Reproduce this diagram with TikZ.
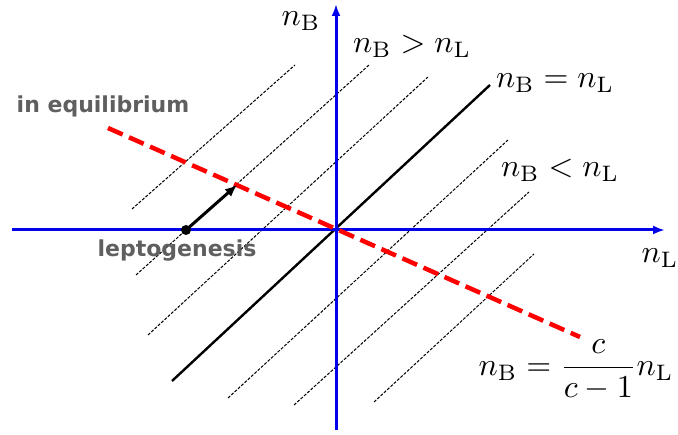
\documentclass[tikz,border=0pt]{standalone}
\usepackage{graphicx}
\usepackage{fontspec}
\newfontfamily\labfont{DejaVu Sans}
\usetikzlibrary{arrows.meta}
\definecolor{axisblue}{RGB}{0,0,235}
\definecolor{eqred}{RGB}{255,0,0}
\definecolor{labgray}{RGB}{95,95,95}
\newcommand{\bigmath}[1]{\scalebox{3.2}{#1}}
\tikzset{
  axisline/.style={draw=axisblue,line width=3pt,-{Latex[length=12pt,width=9pt]}},
  isoline/.style={draw=black,line width=1pt,dash pattern=on 3pt off 1.5pt},
  mainline/.style={draw=black,line width=2.4pt},
  eqline/.style={draw=eqred,line width=4.5pt,dash pattern=on 16pt off 7pt},
  movearrow/.style={draw=black,line width=3pt,-{Latex[length=12pt,width=10pt]}},
  mathlabel/.style={inner sep=0pt},
  textlabel/.style={inner sep=0pt,text=labgray,font=\labfont\bfseries\fontsize{22}{26}\selectfont},
}
\begin{document}
\begin{tikzpicture}[x=1pt,y=-1pt]
\useasboundingbox (0,0) rectangle (678,435);
% coordinates
\coordinate (xl) at (12,230);
\coordinate (xr) at (665,230);
\coordinate (yb) at (336,430);
\coordinate (yt) at (336,4);
\coordinate (a1) at (132,209); \coordinate (b1) at (295,65);
\coordinate (a2) at (136,275); \coordinate (b2) at (369,65);
\coordinate (a3) at (148,335); \coordinate (b3) at (428,77);
\coordinate (a0) at (172,381); \coordinate (b0) at (490,85);
\coordinate (a4) at (228,398); \coordinate (b4) at (508,140);
\coordinate (a5) at (294,405); \coordinate (b5) at (529,192);
\coordinate (a6) at (374,402); \coordinate (b6) at (534,254);
\coordinate (ra) at (108,128); \coordinate (rb) at (580,337);
\coordinate (tip) at (237,185);
% iso lines
\draw[isoline] (a1) -- (b1);
\draw[isoline] (a2) -- (b2);
\draw[isoline] (a3) -- (b3);
\draw[mainline] (a0) -- (b0);
\draw[isoline] (a4) -- (b4);
\draw[isoline] (a5) -- (b5);
\draw[isoline] (a6) -- (b6);
% axes
\draw[axisline] (xl) -- (xr);
\draw[axisline] (yb) -- (yt);
% equilibrium line
\draw[eqline] (ra) -- (rb);
% leptogenesis point and arrow
\node[circle,fill=black,inner sep=0pt,minimum size=10pt] (dot) at (186,230) {};
\draw[movearrow] (dot.center) -- (tip);
% labels
\node[mathlabel] (nby) at (301,21) {\bigmath{$n_{\rm B}$}};
\node[mathlabel] (gt) at (412,46) {\bigmath{$n_{\rm B} > n_{\rm L}$}};
\node[mathlabel] (eq) at (555,83) {\bigmath{$n_{\rm B} = n_{\rm L}$}};
\node[mathlabel] (lt) at (560,170) {\bigmath{$n_{\rm B} < n_{\rm L}$}};
\node[mathlabel] (nlx) at (660,258) {\bigmath{$n_{\rm L}$}};
\node[mathlabel] (frm) at (576,370) {\bigmath{$\displaystyle n_{\rm B} = \frac{c}{c-1} n_{\rm L}$}};
\node[textlabel] (equil) at (103,106) {in equilibrium};
\node[textlabel] (lepto) at (177,251) {leptogenesis};
\end{tikzpicture}
\end{document}
